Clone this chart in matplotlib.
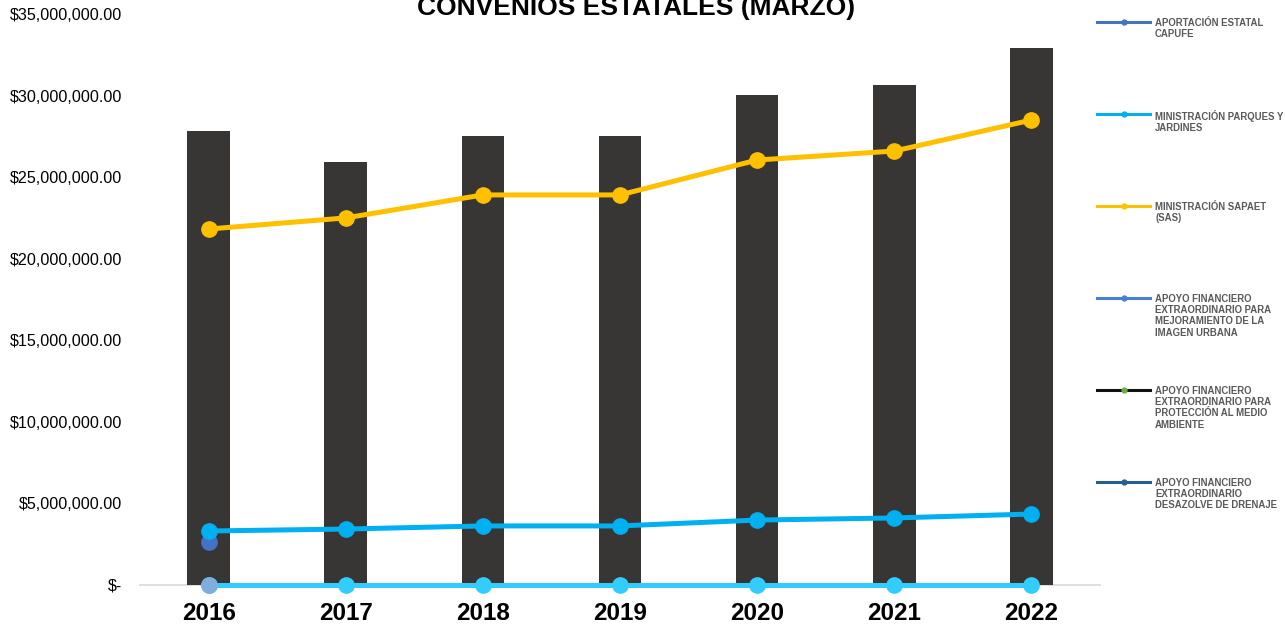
import numpy as np
import matplotlib.pyplot as plt
from matplotlib.lines import Line2D
from matplotlib.ticker import FuncFormatter

plt.rcParams['font.family'] = ['Liberation Sans', 'DejaVu Sans']

# data (pesos)
years = ['2016', '2017', '2018', '2019', '2020', '2021', '2022']
total = [27.83e6, 25.93e6, 27.52e6, 27.52e6, 30.04e6, 30.65e6, 32.92e6]
sapaet = [21.82e6, 22.50e6, 23.91e6, 23.91e6, 26.05e6, 26.60e6, 28.50e6]
parques = [3.31e6, 3.43e6, 3.62e6, 3.62e6, 3.98e6, 4.11e6, 4.35e6]
capufe = [2.64e6, np.nan, np.nan, np.nan, np.nan, np.nan, np.nan]
zero_series = [0, 0, 0, 0, 0, 0, 0]
zero_2016 = [0, np.nan, np.nan, np.nan, np.nan, np.nan, np.nan]

legend_labels = [
    'APORTACIÓN ESTATAL\nCAPUFE',
    'MINISTRACIÓN PARQUES Y\nJARDINES',
    'MINISTRACIÓN SAPAET\n(SAS)',
    'APOYO FINANCIERO\nEXTRAORDINARIO PARA\nMEJORAMIENTO DE LA\nIMAGEN URBANA',
    'APOYO FINANCIERO\nEXTRAORDINARIO PARA\nPROTECCIÓN AL MEDIO\nAMBIENTE',
    'APOYO FINANCIERO\nEXTRAORDINARIO\nDESAZOLVE DE DRENAJE',
]
legend_colors = ['#4472C4', '#00B0F0', '#FFC000', '#4A7FD6', '#111111', '#255E91']
legend_marker = ['#4472C4', '#00B0F0', '#FFC000', '#4A7FD6', '#70AD47', '#255E91']

x = np.arange(len(years))

fig = plt.figure(figsize=(12.85, 6.25), dpi=100)
ax = fig.add_axes([140 / 1285, 1 - 585 / 625, 960 / 1285, 571 / 625])

ax.bar(x, total, width=0.31, color='#383634', zorder=2)
ax.plot(x, sapaet, color='#FFC000', lw=3.6, marker='o', ms=11, zorder=3, clip_on=False)
ax.plot(x, parques, color='#00B0F0', lw=3.6, marker='o', ms=11, zorder=4, clip_on=False)
ax.plot(x, capufe, color='#4472C4', lw=3.6, marker='o', ms=11, zorder=3.5, clip_on=False)
ax.plot(x, zero_series, color='#33CCFF', lw=3.6, marker='o', ms=11, zorder=5, clip_on=False)
ax.plot(x, zero_2016, color='#7FAEDC', lw=3.6, marker='o', ms=11, zorder=6, clip_on=False)

ax.set_xlim(-0.5, len(years) - 0.5)
ax.set_ylim(0, 35e6)
ax.set_yticks(np.arange(0, 35e6 + 1, 5e6))


def money(v, pos):
    if v == 0:
        return '$-'
    return '${:,.2f}'.format(v)


ax.yaxis.set_major_formatter(FuncFormatter(money))
ax.set_xticks(x)
ax.set_xticklabels(years, fontsize=17.5, fontweight='bold')
ax.tick_params(axis='y', length=0, pad=13, labelsize=11.6, colors='#000000')
ax.tick_params(axis='x', length=0, pad=12)
for s in ['top', 'right', 'left']:
    ax.spines[s].set_visible(False)
ax.spines['bottom'].set_color('#D9D9D9')
ax.spines['bottom'].set_linewidth(1.2)
ax.spines['bottom'].set_zorder(1)

fig.text(636 / 1285, 1 - 15 / 625, 'CONVENIOS ESTATALES (MARZO)', ha='center',
         va='baseline', fontsize=19, fontweight='bold')

# legend drawn by hand to keep the even spacing of the original
for i, (lab, c, mc) in enumerate(zip(legend_labels, legend_colors, legend_marker)):
    yy = 1 - (22 + i * 92) / 625
    fig.add_artist(Line2D([1097 / 1285, 1150 / 1285], [yy, yy], color=c, lw=2.2,
                          marker=None, transform=fig.transFigure))
    fig.add_artist(Line2D([1123.5 / 1285], [yy], color=mc, marker='o', ms=3.5,
                          transform=fig.transFigure))
    fig.text(1155 / 1285, yy + 4 / 625, lab, ha='left', va='top', fontsize=6.9,
             fontweight='bold', color='#595959', linespacing=1.15)

fig.savefig('out.png', dpi=100)
